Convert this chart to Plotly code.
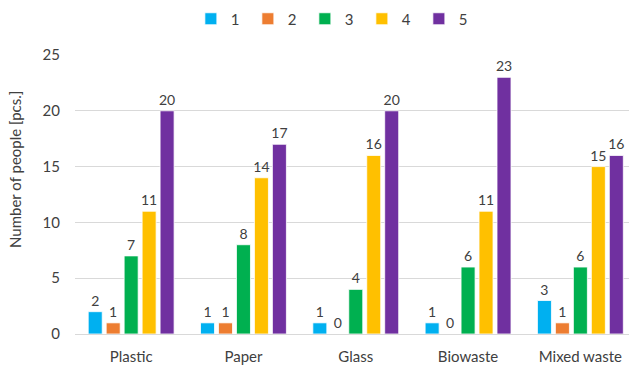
import plotly.graph_objects as go

categories = ["Plastic", "Paper", "Glass", "Biowaste", "Mixed waste"]
series_names = ["1", "2", "3", "4", "5"]
s1 = [2, 1, 1, 1, 3]
s2 = [1, 1, 0, 0, 1]
s3 = [7, 8, 4, 6, 6]
s4 = [11, 14, 16, 11, 15]
s5 = [20, 17, 20, 23, 16]
colors = ["#00B0F0", "#ED7D31", "#00B050", "#FFC000", "#7030A0"]
y_ticks = [0, 5, 10, 15, 20, 25]

FONT = "Lato"
TXT = "#404040"

fig = go.Figure()
for name, vals, col in zip(series_names, [s1, s2, s3, s4, s5], colors):
    fig.add_trace(go.Bar(
        x=categories, y=vals, name=name,
        marker=dict(color=col, line=dict(color="white", width=0.8)),
        text=[str(v) for v in vals], textposition="outside",
        constraintext="none",
        textfont=dict(family=FONT, size=14, color=TXT),
        cliponaxis=False,
    ))

fig.update_layout(
    width=629, height=368,
    margin=dict(l=75, r=0, t=55, b=34),
    paper_bgcolor="white", plot_bgcolor="white",
    barmode="group", bargap=0.2, bargroupgap=0.22,
    font=dict(family=FONT, size=15, color=TXT),
    showlegend=True,
    legend=dict(orientation="h", xref="container", yref="container",
                x=0.53, xanchor="center", y=1 - 19 / 368, yanchor="middle",
                font=dict(family=FONT, size=15, color=TXT),
                entrywidth=12, entrywidthmode="pixels", itemwidth=30,
                traceorder="normal"),
    xaxis=dict(range=[-0.5, 4.433], showgrid=False, showline=False,
               ticks="", ticklabelstandoff=12,
               tickfont=dict(family=FONT, size=15, color=TXT)),
    yaxis=dict(range=[0, 25], tickvals=y_ticks, showgrid=True,
               gridcolor="#D9D9D9", gridwidth=1, zeroline=True,
               zerolinecolor="#D9D9D9", zerolinewidth=1, showline=False,
               ticks="", ticklabelstandoff=14,
               tickfont=dict(family=FONT, size=15, color=TXT)),
    annotations=[dict(text="Number of people [pcs.]", textangle=-90,
                      xref="paper", yref="paper", x=(15 - 75) / 554,
                      y=(334 - 170) / 279, xanchor="center", yanchor="middle",
                      showarrow=False,
                      font=dict(family=FONT, size=15, color=TXT))],
)

fig.write_html("out.html")
